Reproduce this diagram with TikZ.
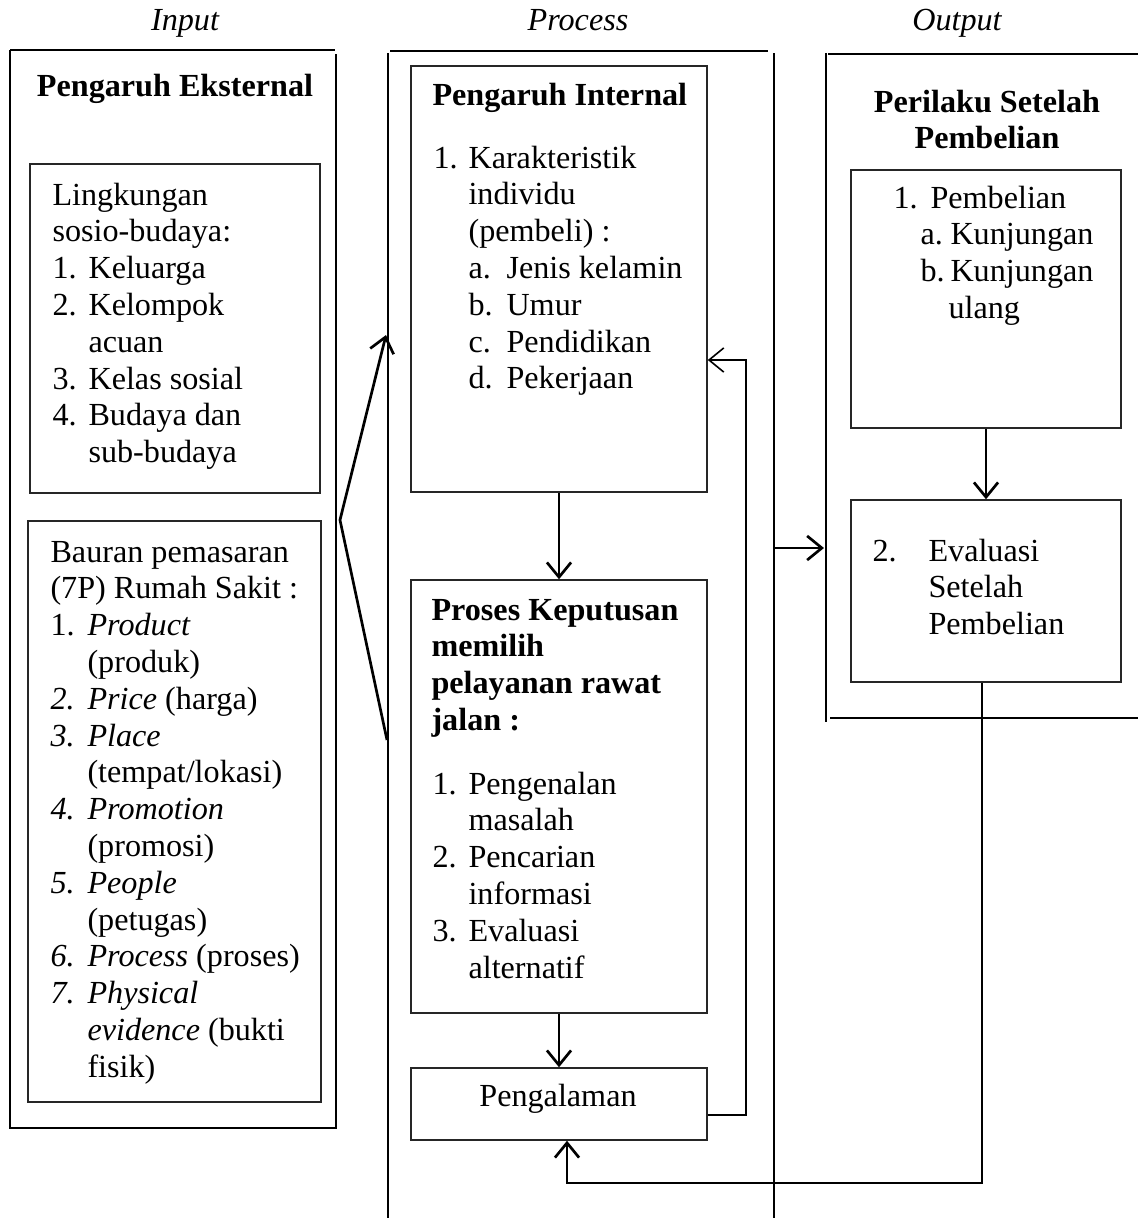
\documentclass[tikz,border=0pt]{standalone}
\usepackage{fontspec}
\setmainfont{Liberation Serif}
\usetikzlibrary{arrows.meta,fit}
\newlength\px
\setlength\px{0.3731pt}
\newcommand{\num}[2][36]{\makebox[#1\px][l]{#2}}
\newcommand{\fs}{\fontsize{12}{13.73}\selectfont}
\newcommand{\txtblock}[2]{\parbox[t]{#1\px}{\raggedright #2}}
\tikzset{
  frame/.style={line width=0.75pt},
  box/.style={draw=black!85, line width=0.55pt, inner sep=0pt},
  txt/.style={inner sep=0pt, anchor=base west, font=\fs},
  bold/.style={inner sep=0pt, anchor=base west, font=\fs\bfseries},
  head/.style={inner sep=0pt, anchor=base, font=\fs\itshape},
  arr/.style={-{Straight Barb[length=5.5pt,width=9pt]}, line width=1pt},
}
\begin{document}
\begin{tikzpicture}[x=0.3731pt,y=-0.3731pt]
      \useasboundingbox (0,0) rectangle (1138,1218);
      \node[head] (hin) at (185,30) {Input};
      \node[head] (hproc) at (578,30) {Process};
      \node[head] (hout) at (957,30) {Output};

      % input frame
      \draw[frame] (10,50) -- (335,50);
      \draw[frame] (10,50) -- (10,1128) -- (336,1128) -- (336,54);
      % process frame
      \draw[frame] (390,51) -- (768,51);
      \draw[frame] (388,53) -- (388,1218);
      \draw[frame] (774,53) -- (774,1218);
      % output frame
      \draw[frame] (828,54) -- (1138,54);
      \draw[frame] (826,53) -- (826,722);
      \draw[frame] (830,718) -- (1138,718);

      \node[box, fit={(30,164) (320,493)}] (ling) {};
      \node[box, fit={(28,521) (321,1102)}] (bauran) {};
      \node[box, fit={(411,66) (707,492)}] (intl) {};
      \node[box, fit={(411,580) (707,1013)}] (proses) {};
      \node[box, fit={(411,1068) (707,1140)}] (exp) {};
      \node[box, fit={(851,170) (1121,428)}] (beli) {};
      \node[box, fit={(851,500) (1121,682)}] (eval) {};

      \node[bold, anchor=base] (eksthd) at (175,96) {Pengaruh Eksternal};
      \node[txt] (lingtxt) at (52,205) {\txtblock{265}{Lingkungan\\
        sosio-budaya:\\
        \num{1.}Keluarga\\
        \num{2.}Kelompok\\
        \num{}acuan\\
        \num{3.}Kelas sosial\\
        \num{4.}Budaya dan\\
        \num{}sub-budaya}};
      \node[txt] (bautxt) at (50,562) {\txtblock{275}{Bauran pemasaran\\
        (7P) Rumah Sakit :\\
        \num[37]{1.}\textit{Product}\\
        \num[37]{}(produk)\\
        \num[37]{\textit{2.}}\textit{Price} (harga)\\
        \num[37]{\textit{3.}}\textit{Place}\\
        \num[37]{}(tempat/lokasi)\\
        \num[37]{\textit{4.}}\textit{Promotion}\\
        \num[37]{}(promosi)\\
        \num[37]{\textit{5.}}\textit{People}\\
        \num[37]{}(petugas)\\
        \num[37]{\textit{6.}}\textit{Process} (proses)\\
        \num[37]{\textit{7.}}\textit{Physical}\\
        \num[37]{}\textit{evidence} (bukti\\
        \num[37]{}fisik)}};

      \node[bold] (intlhd) at (432,105) {Pengaruh Internal};
      \node[txt] (intltxt) at (433,168) {\txtblock{270}{\num[35]{1.}Karakteristik\\
        \num[35]{}individu\\
        \num[35]{}(pembeli) :\\
        \num[35]{}\num[38]{a.}Jenis kelamin\\
        \num[35]{}\num[38]{b.}Umur\\
        \num[35]{}\num[38]{c.}Pendidikan\\
        \num[35]{}\num[38]{d.}Pekerjaan}};

      \node[bold] (proshd) at (431,620) {\txtblock{270}{Proses Keputusan\\
        memilih\\
        pelayanan rawat\\
        jalan :}};
      \node[txt] (prostxt) at (432,794) {\txtblock{270}{\num{1.}Pengenalan\\
        \num{}masalah\\
        \num{2.}Pencarian\\
        \num{}informasi\\
        \num{3.}Evaluasi\\
        \num{}alternatif}};

      \node[txt, anchor=base] (exptxt) at (558,1106) {Pengalaman};

      \node[bold, anchor=base] (outhd) at (987,112) {\parbox[t]{260\px}{\centering Perilaku Setelah\\ Pembelian}};
      \node[txt] (belitxt) at (893,208) {\txtblock{220}{\num[37]{1.}Pembelian\\
        \hspace*{27\px}\num[30]{a.}Kunjungan\\
        \hspace*{27\px}\num[30]{b.}Kunjungan\\
        \hspace*{55\px}ulang}};
      \node[txt] (evaltxt) at (872,561) {\txtblock{240}{\num[56]{2.}Evaluasi\\
        \num[56]{}Setelah\\
        \num[56]{}Pembelian}};

      % connectors
      \coordinate (fork) at (340,520);
      \coordinate (tipup) at (386,335);
      \coordinate (tipdn) at (387,740);
      \draw[arr, {Straight Barb[length=5.5pt,width=9pt]}-] (tipup) -- (fork) -- (tipdn);

      \draw[arr] (intl.south) -- (proses.north);
      \draw[arr] (proses.south) -- (exp.north);

      \coordinate (fbkbot) at (746,1115);
      \coordinate (fbktop) at (746,360);
      \draw[arr, line width=0.6pt] (exp.east |- fbkbot) -- (fbkbot) -- (fbktop) -- (intl.east |- fbktop);

      \coordinate (outfrom) at (774,548);
      \coordinate (outto) at (824,548);
      \draw[arr] (outfrom) -- (outto);

      \draw[arr] (beli.south) -- (eval.north);

      \coordinate (retR) at (982,1183);
      \coordinate (retL) at (567,1183);
      \draw[arr] (eval.south -| retR) -- (retR) -- (retL) -- (retL |- exp.south);
\end{tikzpicture}
\end{document}
